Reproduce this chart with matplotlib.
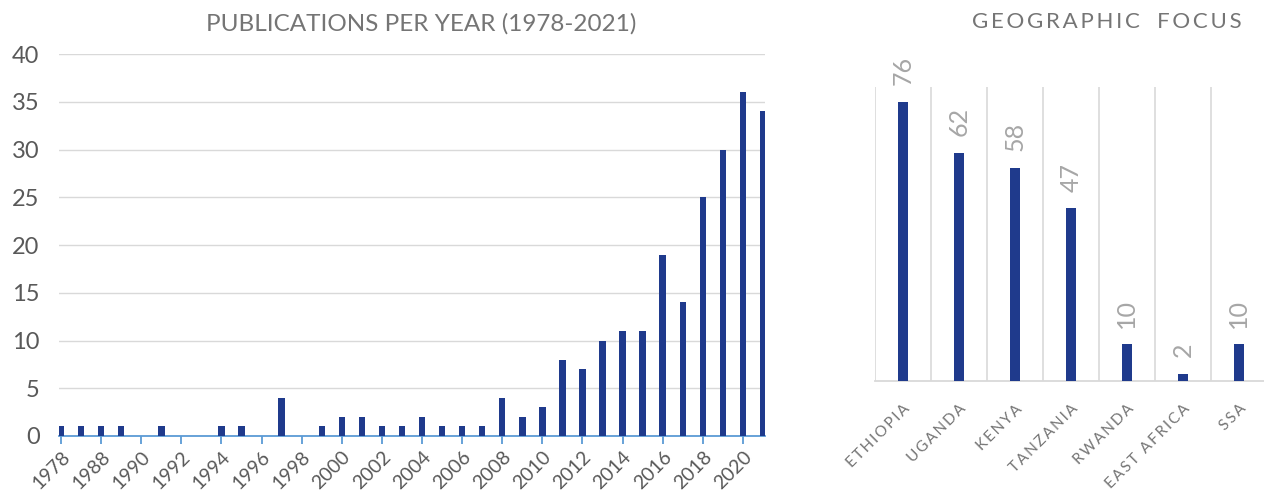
import matplotlib
matplotlib.use("Agg")
import matplotlib.pyplot as plt
import numpy as np

plt.rcParams["font.family"] = ["Lato", "DejaVu Sans"]

# ── publications per year ──
years = ["1978", "1987", "1988", "1989", "1990", "1991", "1992", "1993", "1994",
         "1995", "1996", "1997", "1998", "1999", "2000", "2001", "2002", "2003",
         "2004", "2005", "2006", "2007", "2008", "2009", "2010", "2011", "2012",
         "2013", "2014", "2015", "2016", "2017", "2018", "2019", "2020", "2021"]
pubs = [1, 1, 1, 1, 0, 1, 0, 0, 1,
        1, 0, 4, 0, 1, 2, 2, 1, 1,
        2, 1, 1, 1, 4, 2, 3, 8, 7,
        10, 11, 11, 19, 14, 25, 30, 36, 34]

# ── geographic focus ──
regions = ["ETHIOPIA", "UGANDA", "KENYA", "TANZANIA", "RWANDA", "EAST AFRICA", "SSA"]
counts = [76, 62, 58, 47, 10, 2, 10]

BAR = "#1f3a8c"
TXT = "#595959"
TITLE = "#757575"
LIGHT = "#a6a6a6"
GRID = "#d9d9d9"
AXBLUE = "#5b9bd5"


def spaced(s):
    # letter spacing as in the original
    return "\u2009".join(s)


fig = plt.figure(figsize=(12.64, 4.96), dpi=100)

# left panel
ax1 = fig.add_axes([0.0467, 0.121, 0.5585, 0.770])
x = np.arange(len(years))
ax1.bar(x, pubs, width=0.32, color=BAR, zorder=3)
ax1.set_xlim(-0.1, len(years) - 0.9)
ax1.set_ylim(0, 40)
ax1.set_yticks(range(0, 41, 5))
ax1.yaxis.grid(True, color=GRID, linewidth=1)
ax1.set_axisbelow(True)
ax1.tick_params(axis="y", length=0, labelsize=17, labelcolor=TXT, pad=14)
for s in ["top", "right", "left"]:
    ax1.spines[s].set_visible(False)
ax1.spines["bottom"].set_color(AXBLUE)
ax1.spines["bottom"].set_linewidth(1.3)
ax1.set_xticks(x[::2])
ax1.set_xticklabels(years[::2], rotation=45, ha="right", rotation_mode="anchor",
                    fontsize=14, color=TXT)
ax1.tick_params(axis="x", direction="out", length=6, width=1.3, color=AXBLUE, pad=3)
fig.text(0.333, 0.952, "PUBLICATIONS PER YEAR (1978-2021)", ha="center", va="center",
         fontsize=17.5, color=TITLE)

# right panel
ax2 = fig.add_axes([0.6922, 0.2319, 0.3101, 0.593])
xr = np.arange(len(regions))
ax2.bar(xr, counts, width=0.18, color=BAR, zorder=3)
ax2.set_xlim(-0.5, len(regions) - 0.5)
ax2.set_ylim(0, 80)
ax2.set_yticks([])
for b in np.arange(-0.5, len(regions), 1.0):
    ax2.axvline(b, color=GRID, linewidth=1.2, zorder=1)
for s in ["top", "right", "left"]:
    ax2.spines[s].set_visible(False)
ax2.spines["bottom"].set_color(GRID)
ax2.spines["bottom"].set_linewidth(1.3)
ax2.set_xticks(xr)
ax2.set_xticklabels([spaced(r) for r in regions], rotation=45, ha="right",
                    rotation_mode="anchor", fontsize=11, color=TITLE)
ax2.tick_params(axis="x", length=0, pad=15)
for xi, v in zip(xr, counts):
    ax2.annotate(str(v), (xi, v), xytext=(0, 12), textcoords="offset points",
                 rotation=90, ha="center", va="bottom", fontsize=18, color=LIGHT)
fig.text(0.876, 0.956, spaced("GEOGRAPHIC") + "   " + spaced("FOCUS"), ha="center",
         va="center", fontsize=16, color=TITLE)

fig.savefig("out.png", dpi=100)
